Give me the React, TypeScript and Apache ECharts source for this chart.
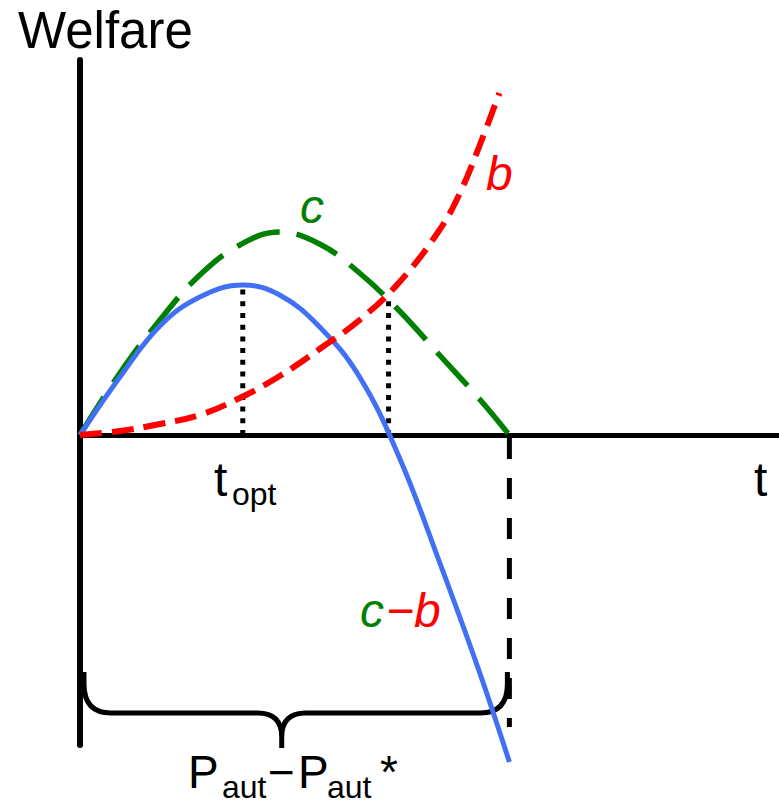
import React, { useEffect, useRef } from "react";
import * as echarts from "echarts";

// Cost curve c (green, long dashes)
const cT = [0, 4, 8, 12, 16, 20, 24, 28, 32, 36, 40, 43];
const cW = [0, 6.2, 11.5, 16.0, 19.0, 20.3, 19.1, 16.2, 12.4, 8.0, 3.6, 0];

// Benefit curve b (red, short dashes)
const bT = [0, 4, 8, 12, 16, 20, 24, 28, 32, 36, 38, 40, 42];
const bW = [0, 0.4, 1.1, 2.0, 3.7, 5.9, 8.6, 11.5, 15.3, 20.5, 24.1, 28.9, 34.2];

// Net curve c − b (blue, solid)
const netT = [0, 4, 8, 12, 16.3, 20, 24, 28, 32, 36, 40, 43];
const netW = [0, 5.8, 10.9, 13.8, 15, 14.0, 10.8, 5.8, -2.3, -12.7, -23.7, -32.7];

// Vertical guides: t_opt (peak of c − b) and the c/b crossing
const tOpt = 16.3;
const tOptTop = 14.8;
const tCross = 30.9;
const tCrossTop = 13.8;

// Point where c returns to zero, and the depth of its dashed drop line
const tEnd = 43;
const dropDepth = -29.2;

// Brace spanning P_aut − P_aut*: [from, to, level, tipT, tipW, endW]
const braceSpan = [[0.4, 42.8, -27.8, 20.2, -31.3, -23.7]];

const FONT = '"Liberation Sans", Arial, Helvetica, sans-serif';

const pairs = (xs: number[], ys: number[]) => xs.map((x, i) => [x, ys[i]]);

// place text by its alphabetic baseline (svg renderer centres on the "central" baseline)
function label(
  text: string,
  x: number,
  baseline: number,
  size: number,
  color: string,
  italic = false
) {
  return {
    type: "text",
    x,
    y: baseline - 0.3465 * size,
    silent: true,
    style: {
      text,
      fill: color,
      font: `${italic ? "italic " : ""}${size}px ${FONT}`,
      textAlign: "left",
      textVerticalAlign: "middle",
      align: "left",
      verticalAlign: "middle",
    },
  };
}

export default function App() {
  const ref = useRef<HTMLDivElement>(null);

  useEffect(() => {
    const chart = echarts.init(ref.current!, null, { renderer: "svg" });

    const hiddenAxis = (min: number, max: number, width: number) => ({
      type: "value",
      min,
      max,
      axisLine: { show: true, onZero: true, lineStyle: { color: "#000", width } },
      axisTick: { show: false },
      axisLabel: { show: false },
      splitLine: { show: false },
    });

    const guide = (t: number, top: number) => ({
      type: "line",
      data: [
        [t, 0],
        [t, top],
      ],
      symbol: "none",
      clip: false,
      silent: true,
      lineStyle: { color: "#000", width: 5, type: [5, 6.7], cap: "butt" },
      z: 2,
    });

    chart.setOption({
      animation: false,
      backgroundColor: "#fff",
      grid: { left: 80, top: 60, width: 700, height: 685 },
      xAxis: hiddenAxis(0, 70, 5),
      yAxis: hiddenAxis(-31, 37.5, 6),
      series: [
        guide(tOpt, tOptTop),
        guide(tCross, tCrossTop),
        {
          type: "line",
          data: [
            [tEnd, 0],
            [tEnd, dropDepth],
          ],
          symbol: "none",
          clip: false,
          silent: true,
          lineStyle: { color: "#000", width: 5, type: [21, 19], dashOffset: -3, cap: "butt" },
          z: 2,
        },
        {
          type: "custom",
          data: braceSpan,
          clip: false,
          silent: true,
          z: 3,
          renderItem: (_params: any, api: any) => {
            const [xa, y] = api.coord([api.value(0), api.value(2)]);
            const [xb] = api.coord([api.value(1), api.value(2)]);
            const [xm, yTip] = api.coord([api.value(3), api.value(4)]);
            const [, yEnd] = api.coord([0, api.value(5)]);
            const rEnd = 27;
            const rMid = 24;
            const d = [
              `M ${xa} ${yEnd}`,
              `L ${xa} ${y - rEnd - 2}`,
              `Q ${xa} ${y} ${xa + rEnd} ${y}`,
              `L ${xm - rMid} ${y}`,
              `Q ${xm} ${y} ${xm} ${y + rMid}`,
              `L ${xm} ${yTip}`,
              `M ${xm} ${y + rMid}`,
              `Q ${xm} ${y} ${xm + rMid} ${y}`,
              `L ${xb - rEnd} ${y}`,
              `Q ${xb} ${y} ${xb} ${y - rEnd - 2}`,
              `L ${xb} ${yEnd}`,
            ].join(" ");
            return {
              type: "path",
              shape: { pathData: d },
              style: { stroke: "#000", lineWidth: 5, fill: "none", lineCap: "butt", lineJoin: "round" },
            };
          },
        },
        {
          name: "c",
          type: "line",
          data: pairs(cT, cW),
          smooth: 0.4,
          symbol: "none",
          clip: false,
          silent: true,
          lineStyle: { color: "#008000", width: 5.5, type: [45, 17], cap: "butt" },
          z: 4,
        },
        {
          name: "c−b",
          type: "line",
          data: pairs(netT, netW),
          smooth: 0.4,
          symbol: "none",
          clip: false,
          silent: true,
          lineStyle: { color: "#4270f5", width: 5 },
          z: 5,
        },
        {
          name: "b",
          type: "line",
          data: pairs(bT, bW),
          smooth: 0.4,
          symbol: "none",
          clip: false,
          silent: true,
          lineStyle: { color: "#ff0000", width: 6, type: [22, 10], cap: "butt" },
          z: 6,
        },
      ],
      graphic: [
        label("Welfare", 18, 48, 51, "#000"),
        label("t", 754, 496, 48, "#000"),
        label("t", 214, 496, 48, "#000"),
        label("opt", 232, 505, 32, "#000"),
        label("c", 300, 223, 48, "#008000", true),
        label("b", 486, 190, 48, "#ff0000", true),
        label("c", 360, 627, 48, "#008000", true),
        label("−b", 386, 627, 48, "#ff0000", true),
        label("P", 188, 788, 46, "#000"),
        label("aut", 222, 798, 32, "#000"),
        label("−", 268, 788, 46, "#000"),
        label("P", 298, 788, 46, "#000"),
        label("aut", 327, 798, 32, "#000"),
        label("*", 380, 788, 46, "#000"),
      ],
    });

    return () => chart.dispose();
  }, []);

  return (
    <div
      ref={ref}
      style={{ position: "fixed", left: 0, top: 0, width: 779, height: 805, background: "#fff" }}
    />
  );
}
